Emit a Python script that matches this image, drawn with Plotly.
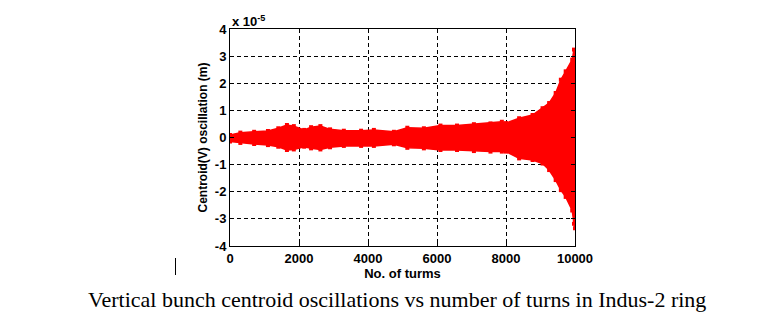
import plotly.graph_objects as go

# Envelope of vertical bunch centroid oscillation (units of 1e-5 m)
turns = [0, 300, 700, 1100, 1400, 1650, 1850, 2150, 2350, 2620, 2900, 3300, 3800, 4170,
         4750, 5140, 5620, 6100, 6580, 7070, 7550, 7880, 8000, 8380, 8770, 9060, 9250,
         9440, 9590, 9730, 9920, 9970, 10000]
upper = [0.09, 0.18, 0.21, 0.24, 0.34, 0.46, 0.42, 0.28, 0.38, 0.42, 0.30, 0.25, 0.25, 0.28,
         0.21, 0.36, 0.34, 0.44, 0.44, 0.49, 0.52, 0.58, 0.53, 0.71, 0.83, 1.08, 1.27,
         1.64, 2.13, 2.44, 2.87, 3.24, 3.10]
lower = [-0.15, -0.20, -0.24, -0.28, -0.34, -0.46, -0.44, -0.34, -0.40, -0.44, -0.36, -0.31, -0.31, -0.31,
         -0.25, -0.38, -0.40, -0.46, -0.46, -0.50, -0.52, -0.52, -0.52, -0.77, -0.83, -0.96, -1.20,
         -1.57, -1.94, -2.19, -2.69, -3.18, -3.35]

x_ticks = [0, 2000, 4000, 6000, 8000, 10000]
y_ticks = [-4, -3, -2, -1, 0, 1, 2, 3, 4]

caption = "Vertical bunch centroid oscillations vs number of turns in Indus-2 ring"

red = "#ff0000"
fig = go.Figure()
fig.add_trace(go.Scatter(x=turns, y=upper, mode="lines+markers", line=dict(color=red, width=1.5),
                         marker=dict(color=red, size=4, symbol="square"),
                         hoverinfo="skip", showlegend=False))
fig.add_trace(go.Scatter(x=turns, y=lower, mode="lines+markers", line=dict(color=red, width=1.5),
                         marker=dict(color=red, size=4, symbol="square"),
                         fill="tonexty", fillcolor=red, hoverinfo="skip", showlegend=False))

tickfont = dict(family="Liberation Sans", size=13, color="black", weight="bold")
axis_common = dict(showline=True, linecolor="black", linewidth=1, mirror="ticks",
                   ticks="inside", ticklen=4, tickcolor="black", showgrid=True,
                   gridcolor="black", gridwidth=1, griddash="4px,3px", zeroline=False,
                   tickfont=tickfont)

fig.update_layout(
    width=770, height=333,
    margin=dict(l=230, r=195, t=29, b=87),
    paper_bgcolor="white", plot_bgcolor="white",
    xaxis=dict(range=[0, 10000], tickvals=x_ticks, ticktext=[str(v) for v in x_ticks],
               title=dict(text="No. of turms", font=dict(family="Liberation Sans", size=13,
                                                          color="black", weight="bold"),
                          standoff=0),
               **axis_common),
    yaxis=dict(range=[-4, 4], tickvals=y_ticks, ticktext=[str(v) for v in y_ticks],
               title=dict(text="Centroid(V) oscillation (m)",
                          font=dict(family="Liberation Sans", size=12, color="black", weight="bold"),
                          standoff=4),
               **axis_common),
)

fig.add_annotation(xref="paper", yref="paper", x=0.0, y=1.0, xanchor="left", yanchor="bottom",
                   text="x 10<sup>-5</sup>", showarrow=False, xshift=0, yshift=-2,
                   font=dict(family="Liberation Sans", size=13, color="black", weight="bold"))

fig.add_annotation(xref="paper", yref="paper", x=(396.5 - 230) / 345, y=-0.245,
                   xanchor="center", yanchor="middle", text=caption, showarrow=False,
                   font=dict(family="Liberation Serif", size=22, color="black"))

fig.add_shape(type="line", xref="paper", yref="paper",
              x0=(175.5 - 230) / 345, x1=(175.5 - 230) / 345,
              y0=(246 - 258) / 217, y1=(246 - 275) / 217,
              line=dict(color="black", width=1))

fig.write_html("out.html")
